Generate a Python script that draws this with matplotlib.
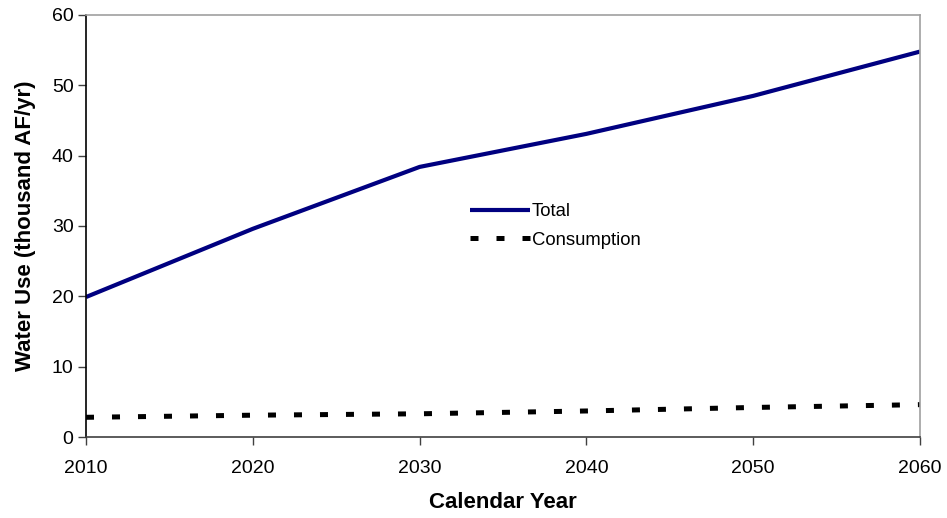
import matplotlib
matplotlib.use("Agg")
import matplotlib.pyplot as plt

plt.rcParams['font.family'] = ['Liberation Sans', 'DejaVu Sans']

years = [2010, 2020, 2030, 2040, 2050, 2060]
total = [19.9, 29.6, 38.4, 43.1, 48.5, 54.8]
consumption = [2.8, 3.1, 3.3, 3.7, 4.2, 4.6]

fig = plt.figure(figsize=(9.47, 5.18), dpi=100)
ax = fig.add_axes([86 / 947, 81 / 518, 834 / 947, 422 / 518])

ax.plot(years, total, color='#000080', lw=3.0, label='Total', solid_capstyle='butt')
ax.plot(years, consumption, color='black', lw=3.6, label='Consumption',
        dashes=(1.6, 3.6), dash_capstyle='butt')

ax.set_xlim(2010, 2060)
ax.set_ylim(0, 60)
ax.set_xticks(years)
ax.set_yticks(range(0, 61, 10))
ax.tick_params(labelsize=14, length=6, width=1, direction='out', colors='#404040',
               labelcolor='black')
ax.tick_params(axis='x', pad=10.5)
ax.tick_params(axis='y', pad=3)

ax.spines['left'].set_color('black')
ax.spines['bottom'].set_color('#404040')
ax.spines['top'].set_color('#a0a0a0')
ax.spines['right'].set_color('#a0a0a0')
for s in ax.spines.values():
    s.set_linewidth(1.2)

ax.set_xlabel('Calendar Year', fontsize=16, fontweight='bold', labelpad=11)
ax.set_ylabel('Water Use (thousand AF/yr)', fontsize=16, fontweight='bold', labelpad=11)

ax.legend(loc='upper left', bbox_to_anchor=(0.496, 0.608), bbox_transform=fig.transFigure,
          frameon=False, fontsize=13.3, borderpad=0, borderaxespad=0,
          handlelength=3.25, handletextpad=0.1, labelspacing=0.62)

fig.savefig('out.png', dpi=100)
